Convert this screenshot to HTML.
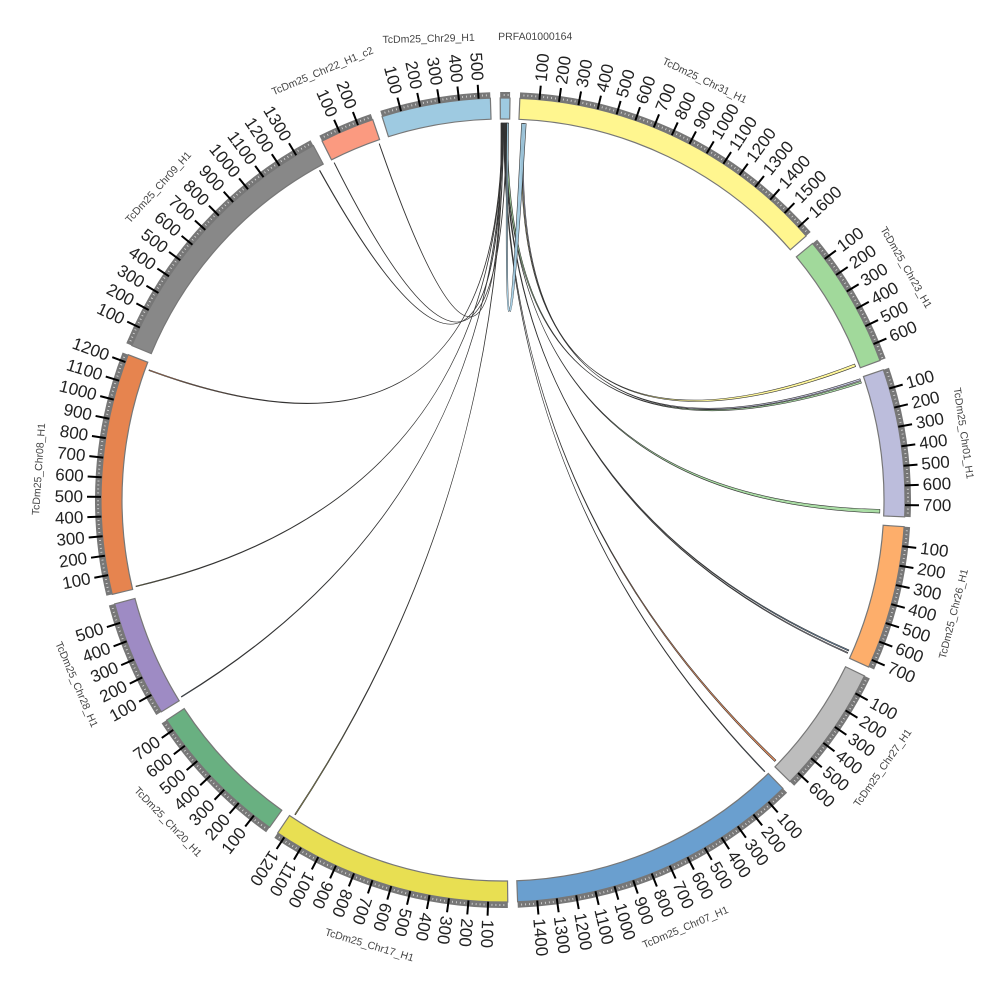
<!DOCTYPE html>
<html><head><meta charset="utf-8"><style>
html,body{margin:0;padding:0;background:#fff;}
svg{display:block;font-family:"Liberation Sans","DejaVu Sans",sans-serif;}
</style></head><body>
<svg id="chart" width="1000" height="1000" viewBox="0 0 1000 1000" xmlns="http://www.w3.org/2000/svg">
<g id="links"></g>
<g id="ideo"></g>
</svg>
<script>
const chromNames = ["PRFA01000164","TcDm25_Chr31_H1","TcDm25_Chr23_H1","TcDm25_Chr01_H1","TcDm25_Chr26_H1","TcDm25_Chr27_H1","TcDm25_Chr07_H1","TcDm25_Chr17_H1","TcDm25_Chr20_H1","TcDm25_Chr28_H1","TcDm25_Chr08_H1","TcDm25_Chr09_H1","TcDm25_Chr22_H1_c2","TcDm25_Chr29_H1"];
const chromLengths = [50,1660,690,760,740,660,1500,1240,760,600,1240,1400,280,560];
const chromColors = ["#9ecae1","#fff68f","#a1d99b","#bcbddc","#fdae6b","#bdbdbd","#6a9fcf","#e8df52","#69b081","#9e8bc4","#e6844f","#888888","#fb9a80","#9ecae1"];
// links: source chrom, source start, source end, target chrom, target start, target end
const linkSrcChrom = [0,0,0,0,0,0,0,0,0,0,0,1,1,0,0,0];
const linkSrcStart = [5,8,10,12,15,18,20,22,25,28,30,20,25,32,3,35];
const linkSrcEnd   = [8,10,12,14,18,20,22,24,28,30,40,28,32,34,5,45];
const linkTgtChrom = [11,10,10,9,7,6,5,4,4,3,3,2,3,12,12,1];
const linkTgtStart = [1365,1200,10,10,1215,5,630,700,715,725,20,660,5,5,270,15];
const linkTgtEnd   = [1368,1205,14,14,1220,9,640,706,720,745,30,675,15,7,272,40];
const linkColors   = ["#888888","#e6844f","#e8df52","#6a9fcf","#e8df52","#6a9fcf","#e6844f","#6a9fcf","#bcbddc","#a1d99b","#a1d99b","#fff68f","#bcbddc","#fb9a80","#e6844f","#9ecae1"];

const cx=503, cy=500, R1=381, R2=402, RL=377;
const startDeg=-0.4, gapDeg=1.4;
const totalLen=chromLengths.reduce((a,b)=>a+b,0);
const degPer=(360-gapDeg*chromLengths.length)/totalLen;
const chromStart=[];
{let a=startDeg;for(let i=0;i<chromLengths.length;i++){chromStart.push(a);a+=chromLengths[i]*degPer+gapDeg;}}
function ang(c,p){return chromStart[c]+p*degPer;}
function pt(deg,r){const t=deg*Math.PI/180;return [cx+r*Math.sin(t),cy-r*Math.cos(t)];}
const NS="http://www.w3.org/2000/svg";
function mk(tag,attrs,parent){const e=document.createElementNS(NS,tag);for(const k in attrs)e.setAttribute(k,attrs[k]);parent.appendChild(e);return e;}
function arcPath(a0,a1,r0,r1){
  const p0=pt(a0,r1),p1=pt(a1,r1),p2=pt(a1,r0),p3=pt(a0,r0);const lg=(a1-a0)>180?1:0;
  return `M${p0[0]},${p0[1]}A${r1},${r1} 0 ${lg} 1 ${p1[0]},${p1[1]}L${p2[0]},${p2[1]}A${r0},${r0} 0 ${lg} 0 ${p3[0]},${p3[1]}Z`;
}
const ideo=document.getElementById('ideo');
const links=document.getElementById('links');
for(let i=0;i<linkSrcChrom.length;i++){
  const s0=ang(linkSrcChrom[i],linkSrcStart[i]),s1=ang(linkSrcChrom[i],linkSrcEnd[i]);
  const t0=ang(linkTgtChrom[i],linkTgtStart[i]),t1=ang(linkTgtChrom[i],linkTgtEnd[i]);
  const a=pt(s0,RL),b=pt(s1,RL),c=pt(t0,RL),d=pt(t1,RL);
  const dstr=`M${a[0]},${a[1]}A${RL},${RL} 0 0 1 ${b[0]},${b[1]}Q${cx},${cy} ${d[0]},${d[1]}A${RL},${RL} 0 0 0 ${c[0]},${c[1]}Q${cx},${cy} ${a[0]},${a[1]}Z`;
  const p=mk('path',{d:dstr,fill:linkColors[i],stroke:'#333','stroke-width':0.6,'fill-opacity':0.9},links);
  
  
}
for(let c=0;c<chromLengths.length;c++){
  const a0=chromStart[c],a1=a0+chromLengths[c]*degPer;
  const g=mk('g',{},ideo);
  
  
  mk('path',{d:arcPath(a0,a1,R2,R2+6),fill:'#777',stroke:'none'},g);
  for(let p=20;p<chromLengths[c];p+=20){
    if(p%100===0)continue;
    const q0=pt(ang(c,p),R2+2),q1=pt(ang(c,p),R2+4);
    mk('line',{x1:q0[0],y1:q0[1],x2:q1[0],y2:q1[1],stroke:'#ddd','stroke-width':0.8},g);
  }
  mk('path',{d:arcPath(a0,a1,R1,R2),fill:chromColors[c],stroke:'#777','stroke-width':1.2},g);
  for(let p=100;p<chromLengths[c];p+=100){
    const A=ang(c,p);const q0=pt(A,R2),q1=pt(A,R2+14);
    mk('line',{x1:q0[0],y1:q0[1],x2:q1[0],y2:q1[1],stroke:'#000','stroke-width':2},g);
    const lp=pt(A,R2+18);
    let rot=A-90,anchor='start';
    const An=((A%360)+360)%360;
    if(An>215.5&&An<360){rot=A+90;anchor='end';}
    const t=mk('text',{x:lp[0],y:lp[1],'font-size':17,fill:'#222','text-anchor':anchor,'dominant-baseline':'central',transform:`rotate(${rot} ${lp[0]} ${lp[1]})`},g);
    t.textContent=String(p);
    
    
  }
  let mid=(a0+a1)/2, anchor='middle', r=465;
  if(c===13){mid=356.5;anchor='end';r=463;}
  if(c===0){mid=chromStart[0]-0.2;anchor='start';r=463;}
  const np=pt(mid,r);
  let rot=((mid%360)+360)%360; if(rot>90&&rot<270) rot-=180;
  if(c===0||c===13) rot=((rot+180)%360)-180;
  if(c===0||c===13) rot=rot*0.4;
  const t=mk('text',{x:np[0],y:np[1],'font-size':10.5,fill:'#444','text-anchor':anchor,'dominant-baseline':'central',transform:`rotate(${rot} ${np[0]} ${np[1]})`},g);
  t.textContent=chromNames[c];
  
  
}
</script>
</body></html>
